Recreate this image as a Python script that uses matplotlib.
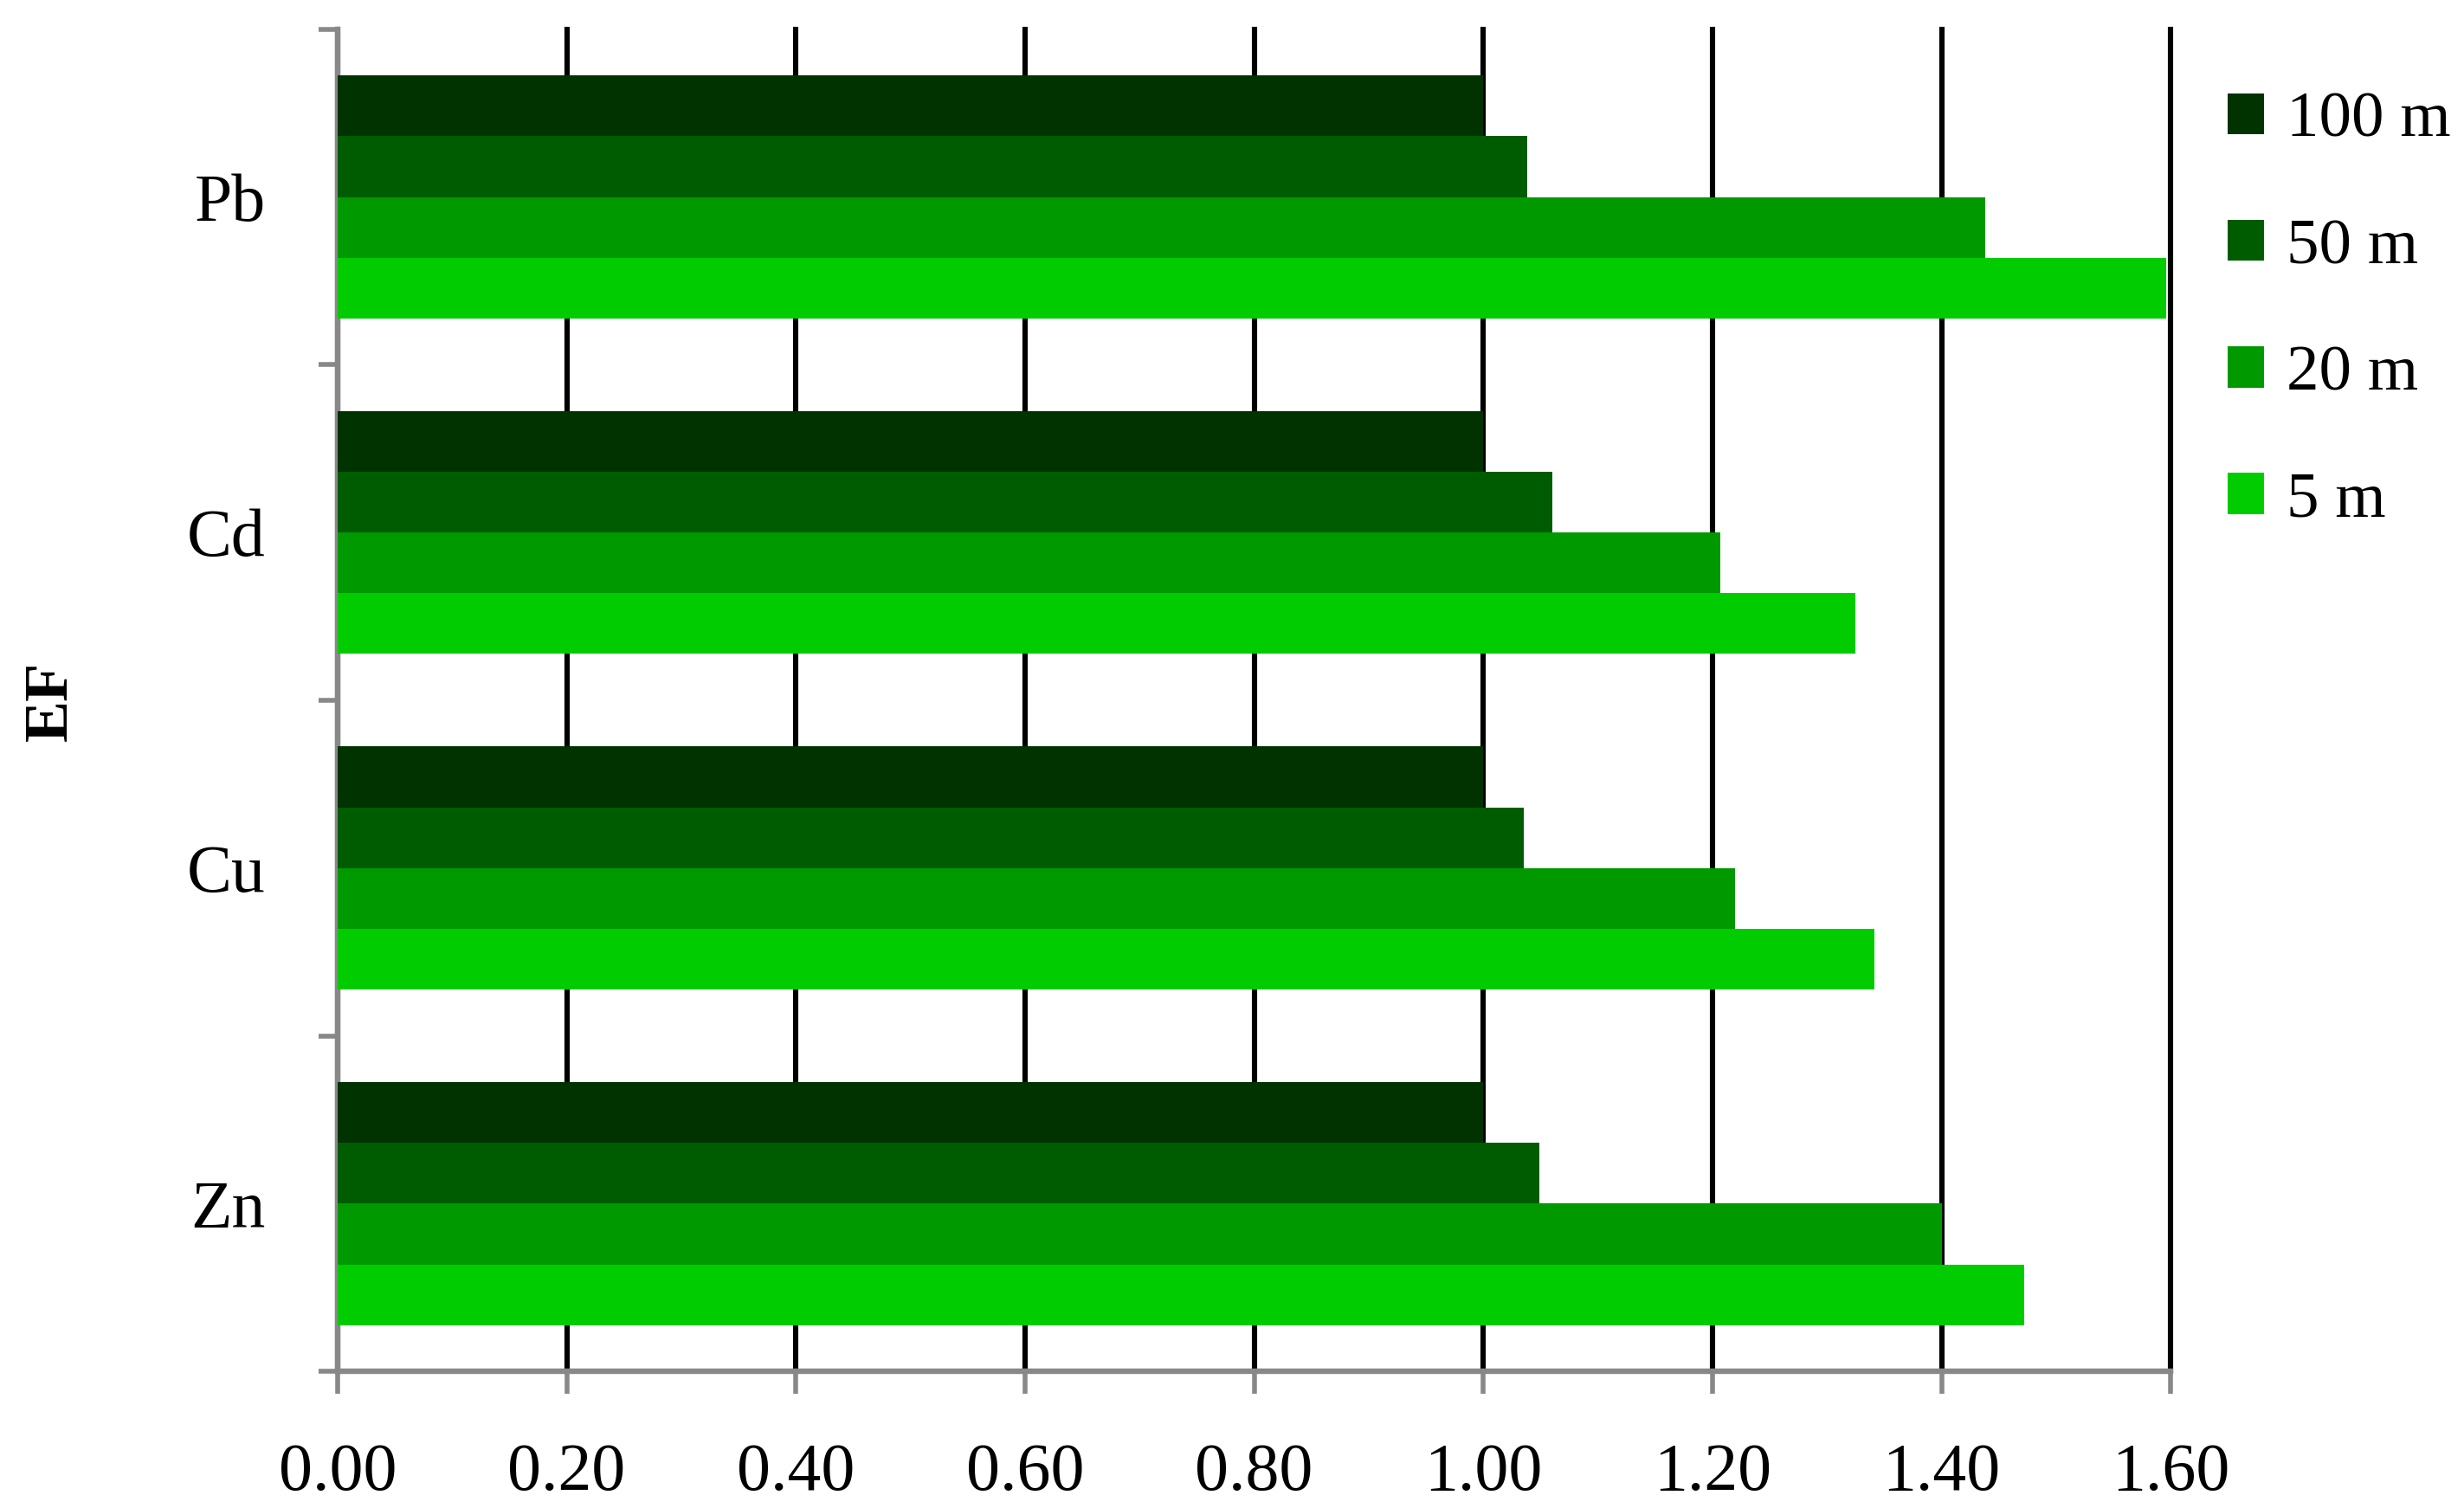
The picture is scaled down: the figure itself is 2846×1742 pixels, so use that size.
import matplotlib
matplotlib.use("Agg")
import matplotlib.pyplot as plt
import numpy as np

# Datos (de abajo hacia arriba en el eje y)
elementos = ["Zn", "Cu", "Cd", "Pb"]
distancias = ["100 m", "50 m", "20 m", "5 m"]
ef_100 = [1.00, 1.00, 1.00, 1.00]
ef_50 = [1.049, 1.035, 1.060, 1.038]
ef_20 = [1.400, 1.220, 1.207, 1.438]
ef_5 = [1.472, 1.341, 1.325, 1.596]
series = [ef_100, ef_50, ef_20, ef_5]
colores = ["#003300", "#005c00", "#009900", "#00cc00"]

plt.rcParams["font.family"] = ["Liberation Serif", "DejaVu Serif"]

fig = plt.figure(figsize=(14.23, 8.71), dpi=200)
ax = fig.add_axes([0.137, 0.0906, 0.744, 0.890])

y = np.arange(len(elementos))
h = 0.181
offsets = [1.5 * h, 0.5 * h, -0.5 * h, -1.5 * h]
for vals, off, col, lab in zip(series, offsets, colores, distancias):
    ax.barh(y + off, vals, height=h, color=col, label=lab, zorder=3)

ax.set_xlim(0, 1.6)
ax.set_ylim(-0.5, 3.5)

xt = np.arange(0, 1.61, 0.2)
ax.set_xticks(xt)
ax.set_xticklabels([f"{v:.2f}" for v in xt], fontsize=28)
ax.xaxis.grid(True, color="black", linewidth=2.2, zorder=1)
for gl in ax.get_xgridlines():
    gl.set_clip_on(False)
ax.set_axisbelow(True)

ax.set_yticks(np.arange(-0.5, 3.6, 1.0))
ax.set_yticklabels([])
ax.set_yticks(y, minor=True)
ax.set_yticklabels(elementos, minor=True, fontsize=28)
ax.tick_params(axis="y", which="minor", length=0, pad=30)
ax.tick_params(axis="y", which="major", length=8, width=2, color="#888888")
ax.tick_params(axis="x", length=9.5, width=2, color="#888888", pad=20)

for s in ["top", "right"]:
    ax.spines[s].set_visible(False)
for s in ["left", "bottom"]:
    ax.spines[s].set_color("#888888")
    ax.spines[s].set_linewidth(2.3)

fig.text(0.021, 0.535, "EF", rotation=90, fontsize=26, fontweight="bold",
         ha="center", va="center")

leg = fig.legend(loc="upper left", bbox_to_anchor=(0.904, 0.939), frameon=False,
                 fontsize=27, handlelength=0.56, handleheight=0.6,
                 handletextpad=0.35, labelspacing=1.05, borderaxespad=0,
                 borderpad=0)

fig.savefig("out.png", dpi=200)
